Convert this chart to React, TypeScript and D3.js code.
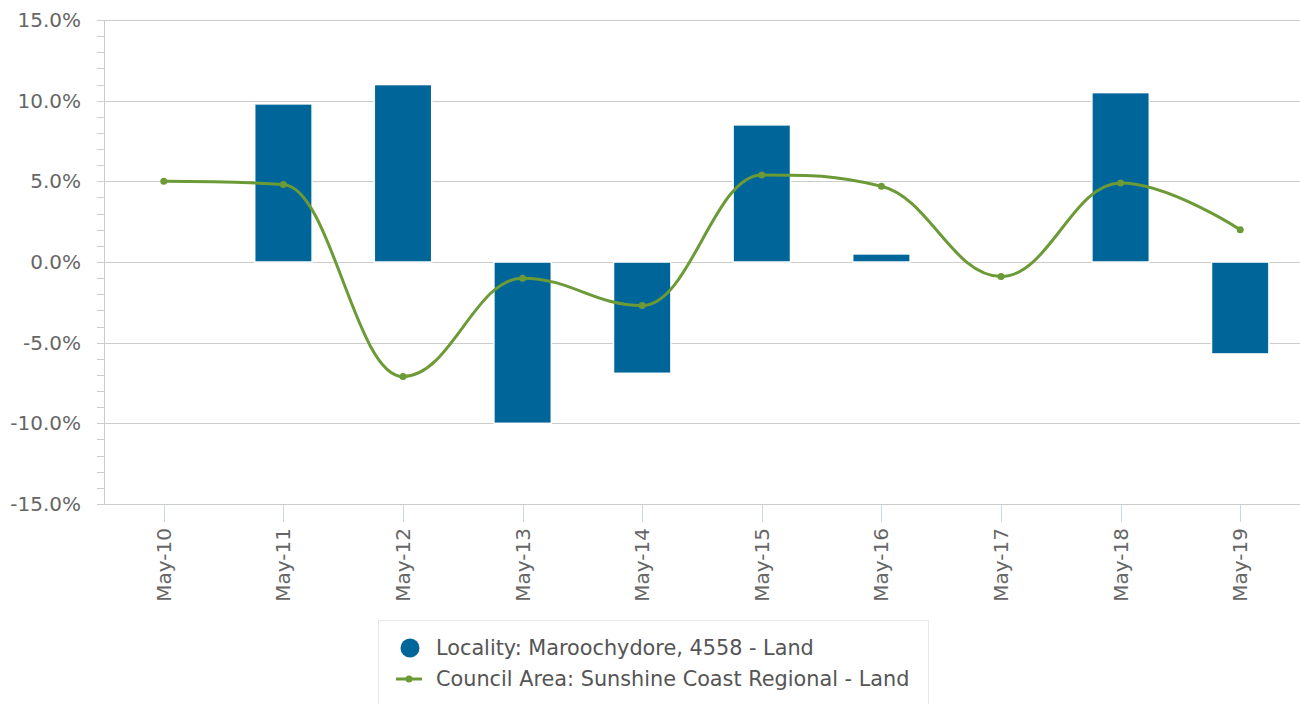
import React, { useEffect, useRef } from "react"
import * as d3 from "d3"

const categories = ["May-10", "May-11", "May-12", "May-13", "May-14", "May-15", "May-16", "May-17", "May-18", "May-19"]
const localityValues: (number | null)[] = [null, 9.8, 11.0, -10.0, -6.9, 8.5, 0.5, null, 10.5, -5.7]
const councilValues = [5.0, 4.8, -7.1, -1.0, -2.7, 5.4, 4.7, -0.9, 4.9, 2.0]
const yTicks = [-15, -10, -5, 0, 5, 10, 15]
const legendLabels = ["Locality: Maroochydore, 4558 - Land", "Council Area: Sunshine Coast Regional - Land"]

const W = 1300
const H = 704
const BLUE = "#006699"
const GREEN = "#6b9a36"
const FONT = "'DejaVu Sans', sans-serif"

// spline path in the style of a smoothed chart line (control points kept inside neighbours)
function splinePath(pts: [number, number][]) {
  const s = 1.5
  const den = s + 1
  let d = `M${pts[0][0]},${pts[0][1]}`
  let prevRight: [number, number] = pts[0]
  for (let i = 1; i < pts.length; i++) {
    const [px, py] = pts[i]
    const [lx, ly] = pts[i - 1]
    const next = pts[i + 1]
    let left: [number, number] = [px, py]
    let right: [number, number] = [px, py]
    if (next) {
      const [nx, ny] = next
      let lcx = (s * px + lx) / den
      let lcy = (s * py + ly) / den
      const rcx = (s * px + nx) / den
      let rcy = (s * py + ny) / den
      const corr = ((rcy - lcy) * (rcx - px)) / (rcx - lcx) + py - rcy
      lcy += corr
      rcy += corr
      if (lcy > ly && lcy > py) { lcy = Math.max(ly, py); rcy = 2 * py - lcy }
      else if (lcy < ly && lcy < py) { lcy = Math.min(ly, py); rcy = 2 * py - lcy }
      if (rcy > ny && rcy > py) { rcy = Math.max(ny, py); lcy = 2 * py - rcy }
      else if (rcy < ny && rcy < py) { rcy = Math.min(ny, py); lcy = 2 * py - rcy }
      left = [lcx, lcy]
      right = [rcx, rcy]
    }
    d += `C${prevRight[0]},${prevRight[1]} ${left[0]},${left[1]} ${px},${py}`
    prevRight = right
  }
  return d
}

export default function App() {
  const ref = useRef<SVGSVGElement>(null)

  useEffect(() => {
    const svg = d3.select(ref.current)
    svg.selectAll("*").remove()

    const left = 104
    const right = 1300
    const top = 20
    const bottom = 504

    const x = d3.scaleBand().domain(categories).range([left, right])
    const y = d3.scaleLinear().domain([-15, 15]).range([bottom, top])

    // minor ticks
    const minor = d3.range(-15, 15.01, 1).filter(v => v % 5 !== 0)
    svg.append("g")
      .selectAll("line")
      .data(minor)
      .enter()
      .append("line")
      .attr("x1", left - 7)
      .attr("x2", left)
      .attr("y1", d => Math.round(y(d)) + 0.5)
      .attr("y2", d => Math.round(y(d)) + 0.5)
      .attr("stroke", "#ccc")

    // grid + major ticks
    svg.append("g")
      .selectAll("line")
      .data(yTicks)
      .enter()
      .append("line")
      .attr("x1", left - 7)
      .attr("x2", right)
      .attr("y1", d => Math.round(y(d)) + 0.5)
      .attr("y2", d => Math.round(y(d)) + 0.5)
      .attr("stroke", "#ccc")

    svg.append("g")
      .selectAll("text")
      .data(yTicks)
      .enter()
      .append("text")
      .attr("x", 81)
      .attr("y", d => y(d) + 7)
      .attr("text-anchor", "end")
      .attr("font-family", FONT)
      .attr("font-size", 20)
      .attr("fill", "#666")
      .text(d => d.toFixed(1) + "%")

    // y axis line
    svg.append("line")
      .attr("x1", left + 0.5).attr("x2", left + 0.5)
      .attr("y1", top).attr("y2", bottom)
      .attr("stroke", "#ccc")

    // x axis line
    svg.append("line")
      .attr("x1", left).attr("x2", right)
      .attr("y1", bottom + 0.5).attr("y2", bottom + 0.5)
      .attr("stroke", "#ccc")

    const cx = (c: string) => (x(c) as number) + x.bandwidth() / 2

    svg.append("g")
      .selectAll("line")
      .data(categories)
      .enter()
      .append("line")
      .attr("x1", d => Math.round(cx(d)) + 0.5)
      .attr("x2", d => Math.round(cx(d)) + 0.5)
      .attr("y1", bottom + 1)
      .attr("y2", bottom + 18)
      .attr("stroke", "#ccd6eb")

    svg.append("g")
      .selectAll("text")
      .data(categories)
      .enter()
      .append("text")
      .attr("transform", d => `translate(${cx(d) + 7},${bottom + 24}) rotate(-90)`)
      .attr("text-anchor", "end")
      .attr("font-family", FONT)
      .attr("font-size", 20)
      .attr("fill", "#666")
      .text(d => d)

    // bars
    const barW = x.bandwidth() * 0.48
    const bars = categories
      .map((c, i) => ({ c, v: localityValues[i] }))
      .filter(d => d.v !== null) as { c: string; v: number }[]
    svg.append("g")
      .selectAll("rect")
      .data(bars)
      .enter()
      .append("rect")
      .attr("x", d => cx(d.c) - barW / 2)
      .attr("width", barW)
      .attr("y", d => y(Math.max(0, d.v)))
      .attr("height", d => Math.abs(y(d.v) - y(0)))
      .attr("fill", BLUE)
      .attr("stroke", "#fff")
      .attr("stroke-width", 1.5)

    // spline line
    const pts = categories.map((c, i) => [cx(c), y(councilValues[i])] as [number, number])
    svg.append("path")
      .attr("d", splinePath(pts))
      .attr("fill", "none")
      .attr("stroke", GREEN)
      .attr("stroke-width", 3)
      .attr("stroke-linecap", "round")

    svg.append("g")
      .selectAll("circle")
      .data(pts)
      .enter()
      .append("circle")
      .attr("cx", d => d[0])
      .attr("cy", d => d[1])
      .attr("r", 3.5)
      .attr("fill", GREEN)

    // legend
    const lg = svg.append("g")
    lg.append("rect")
      .attr("x", 378.5).attr("y", 620.5)
      .attr("width", 550).attr("height", 100)
      .attr("fill", "#fff")
      .attr("stroke", "#e8e8e8")
    lg.append("circle").attr("cx", 410).attr("cy", 648).attr("r", 9.5).attr("fill", BLUE)
    lg.append("line")
      .attr("x1", 396).attr("x2", 422)
      .attr("y1", 679).attr("y2", 679)
      .attr("stroke", GREEN).attr("stroke-width", 3)
    lg.append("circle").attr("cx", 409).attr("cy", 679).attr("r", 3.5).attr("fill", GREEN)
    lg.selectAll("text")
      .data(legendLabels)
      .enter()
      .append("text")
      .attr("x", 436)
      .attr("y", (d, i) => 655 + i * 31)
      .attr("font-family", FONT)
      .attr("font-size", 20.8)
      .attr("fill", "#555")
      .text(d => d)
  }, [])

  return (
    <svg
      ref={ref}
      width={W}
      height={H}
      style={{ position: "absolute", left: 0, top: 0, background: "#fff" }}
    />
  )
}
